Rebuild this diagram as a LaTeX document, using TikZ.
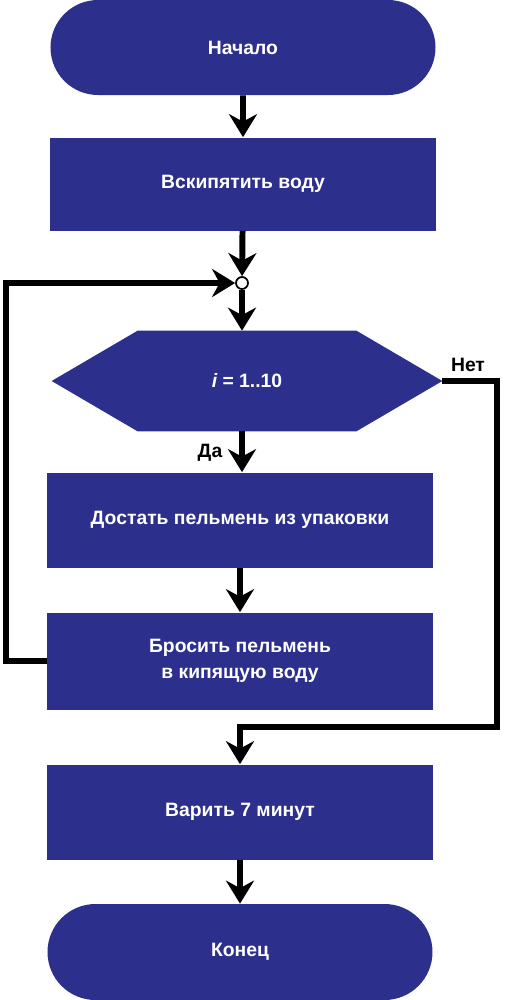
\documentclass[tikz,border=0pt]{standalone}
\usepackage{fontspec}
\setmainfont{Liberation Sans}
\usetikzlibrary{shapes.misc,arrows.meta,backgrounds}
\definecolor{boxblue}{RGB}{44,47,140}
\tikzset{
  blok/.style={fill=boxblue, text=white, font=\bfseries\fontsize{11}{15}\selectfont, minimum width=7.7cm, minimum height=1.9cm, inner sep=0pt, align=center},
  term/.style={blok, rounded rectangle},
  flow/.style={line width=3.4pt, -{Stealth[length=4.6mm, width=5.6mm, inset=1.5mm]}},
  lbl/.style={font=\bfseries\fontsize{11}{13}\selectfont, text=black},
}
\begin{document}
\begin{tikzpicture}[x=0.2mm, y=-0.2mm]
  \useasboundingbox (0,0) rectangle (506,1000);
  % blocks
  \node[term] (start) at (243,47.5) {Начало};
  \node[blok, minimum height=1.86cm] (boil) at (243,184) {Вскипятить воду};
  \node[circle, draw=black, fill=white, line width=1pt, minimum size=2.4mm, inner sep=0pt] (junc) at (242,283) {};
  \node[blok, fill=none, minimum width=7.8cm, minimum height=2cm] (cond) at (247,381) {{\itshape i} = 1..10};
  \node[blok] (take) at (240,520) {Достать пельмень из упаковки};
  \node[blok, minimum height=1.94cm] (drop) at (240,661) {Бросить пельмень\\в кипящую воду};
  \node[blok] (cook) at (240,812) {Варить 7 минут};
  \node[term, minimum height=1.92cm] (end) at (240,952) {Конец};
  % hexagon
  \begin{scope}[on background layer]
    \fill[boxblue] (cond.west) -- ([xshift=1.72cm]cond.north west) -- ([xshift=-1.72cm]cond.north east) -- (cond.east)
      -- ([xshift=-1.72cm]cond.south east) -- ([xshift=1.72cm]cond.south west) -- cycle;
  \end{scope}
  % labels
  \node[lbl] (no) at (468,365) {Нет};
  \node[lbl] (yes) at (210,453) {Да};
  % connectors
  \coordinate (loopx) at (6,283);
  \coordinate (nocorner) at (497,727);
  \draw[flow] (start) -- (boil);
  \draw[flow] (boil) -- (junc);
  \draw[flow] (junc) -- (junc |- cond.north);
  \draw[flow] (cond.south -| junc) -- (take.north -| junc);
  \draw[flow] (take) -- (drop);
  \draw[flow] (drop.west) -| (loopx) -- (junc);
  \draw[flow] (cond.east) -| (nocorner) -| (cook.north);
  \draw[flow] (cook) -- (end);
\end{tikzpicture}
\end{document}
